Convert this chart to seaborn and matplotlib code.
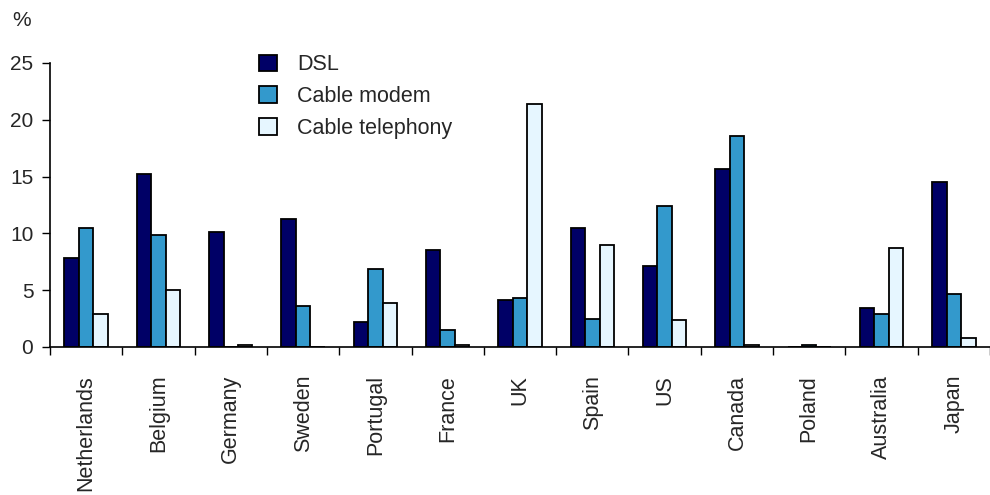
import matplotlib
matplotlib.use("Agg")
import matplotlib.pyplot as plt
import seaborn as sns
import pandas as pd
import numpy as np

countries = ["Netherlands", "Belgium", "Germany", "Sweden", "Portugal", "France",
             "UK", "Spain", "US", "Canada", "Poland", "Australia", "Japan"]
dsl = [7.8, 15.2, 10.1, 11.3, 2.2, 8.5, 4.1, 10.5, 7.1, 15.7, 0.0, 3.4, 14.5]
cable_modem = [10.5, 9.9, 0.0, 3.6, 6.9, 1.5, 4.3, 2.5, 12.4, 18.6, 0.2, 2.9, 4.7]
cable_telephony = [2.9, 5.0, 0.2, 0.0, 3.9, 0.2, 21.4, 9.0, 2.4, 0.2, 0.0, 8.7, 0.8]
series = ["DSL", "Cable modem", "Cable telephony"]
colors = ["#000066", "#3399CC", "#E6F6FF"]
y_ticks = [0, 5, 10, 15, 20, 25]

df = pd.DataFrame({
    "country": countries * 3,
    "value": dsl + cable_modem + cable_telephony,
    "series": np.repeat(series, len(countries)),
})

sns.set_style("white")
plt.rcParams["font.family"] = ["Liberation Sans", "DejaVu Sans"]

fig = plt.figure(figsize=(9.9, 4.95), dpi=100)
ax = fig.add_axes([50 / 990, 1 - 347 / 495, 1 - 50 / 990, (347 - 63) / 495])

sns.barplot(data=df, x="country", y="value", hue="series", order=countries,
            hue_order=series, palette=colors, width=0.6, edgecolor="black",
            linewidth=1.3, ax=ax, saturation=1)

ax.set_ylim(0, 25)
ax.set_xlim(-0.5, 12.41)
ax.set_yticks(y_ticks)
ax.set_yticklabels([str(t) for t in y_ticks], fontsize=15)
ax.tick_params(axis="y", which="major", direction="out", length=6, width=1,
               color="black", left=True, pad=6)

ax.set_xticks(range(len(countries)))
ax.set_xticklabels(countries, rotation=90, fontsize=15.5, va="top")
ax.tick_params(axis="x", which="major", length=0, pad=20)
ax.set_xticks(np.arange(-0.5, len(countries), 1.0), minor=True)
ax.tick_params(axis="x", which="minor", direction="out", length=6, width=1,
               color="black", bottom=True)

ax.set_xlabel("")
ax.set_ylabel("")
for side in ["top", "right"]:
    ax.spines[side].set_visible(False)
for side in ["left", "bottom"]:
    ax.spines[side].set_color("black")
    ax.spines[side].set_linewidth(1.2)

fig.text(12 / 990, 1 - 21 / 495, "%", fontsize=15, va="center", ha="left")

leg = ax.legend(loc="upper left", bbox_to_anchor=(240 / 990, 1 - 35 / 495),
                bbox_transform=fig.transFigure, frameon=False, fontsize=15.5,
                handlelength=0.8, handleheight=0.8, labelspacing=0.5,
                handletextpad=0.95, title=None)

fig.savefig("out.png", dpi=100)
